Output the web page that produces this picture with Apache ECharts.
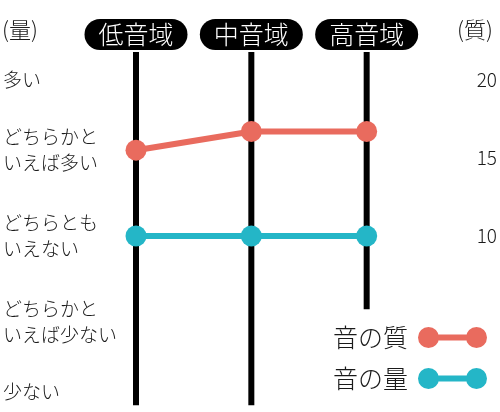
<!DOCTYPE html>
<html>
<head>
<meta charset="utf-8">
<script src="https://cdn.jsdelivr.net/npm/echarts@6/dist/echarts.min.js"></script>
<style>
html,body{margin:0;padding:0;background:#fff;}
#c{width:500px;height:412px;}
</style>
</head>
<body>
<div id="c"></div>
<script>
// ---- data ----
const categories = ['低音域', '中音域', '高音域'];
const qualityName = '音の質';
const volumeName = '音の量';
const qualityValues = [15.5, 16.7, 16.7];
const volumeValues = [10, 10, 10];
const leftTickValues = [0, 5, 10, 15, 20];
const leftTickLabels = ['少ない', 'どちらかと\nいえば少ない', 'どちらとも\nいえない', 'どちらかと\nいえば多い', '多い'];
const rightTickValues = [10, 15, 20];
const rightTickLabels = ['10', '15', '20'];
const axisTop = [21.8, 21.8, 21.8];
const axisBottom = [-0.85, -0.85, 5.3];

const FONT = '"Noto Sans CJK JP", "Noto Sans", sans-serif';
const RED = '#E96B5E';
const TEAL = '#24B6C7';
const TXT = '#1a1a1a';
const legendIcon = 'path://M0,10.5A10.5,10.5,0,1,1,21,10.5A10.5,10.5,0,1,1,0,10.5ZM10,7.5H59V13.5H10ZM48,10.5A10.5,10.5,0,1,1,69,10.5A10.5,10.5,0,1,1,48,10.5Z';

const axisData = categories.map((c, i) => [i, axisTop[i], axisBottom[i]]);

const chart = echarts.init(document.getElementById('c'), null, {renderer: 'canvas'});
chart.setOption({
  backgroundColor: '#fff',
  animation: false,
  textStyle: {fontFamily: FONT},
  grid: {left: 136, right: 131, top: 80, bottom: 20},
  graphic: [
    {type: 'text', left: 2, top: 19, style: {text: '(量)', font: '300 22px ' + FONT, fill: TXT}},
    {type: 'text', left: 457, top: 19, style: {text: '(質)', font: '300 22px ' + FONT, fill: TXT}}
  ],
  legend: {
    data: [qualityName, volumeName],
    orient: 'vertical',
    right: 8,
    top: 320,
    align: 'right',
    itemWidth: 69,
    itemHeight: 21,
    itemGap: 16,
    icon: legendIcon,
    textStyle: {fontSize: 25, fontWeight: 300, lineHeight: 25, color: TXT, fontFamily: FONT, padding: [0, 5, 0, 0]}
  },
  xAxis: {
    type: 'category',
    data: categories,
    position: 'top',
    boundaryGap: false,
    z: 10,
    axisLine: {show: false},
    axisTick: {show: false},
    splitLine: {show: false},
    axisLabel: {
      color: '#fff',
      fontSize: 25,
      fontWeight: 300,
      lineHeight: 25,
      fontFamily: FONT,
      backgroundColor: '#000',
      borderRadius: 16,
      padding: [3, 14, 3, 14],
      margin: 30
    }
  },
  yAxis: [
    {
      type: 'value', min: 0, max: 20, interval: 5, position: 'left',
      axisLine: {show: false}, axisTick: {show: false}, splitLine: {show: false},
      axisLabel: {
        align: 'left', margin: 133, color: TXT, fontSize: 19, fontWeight: 300, lineHeight: 26, fontFamily: FONT,
        formatter: v => {
          const i = leftTickValues.indexOf(v);
          if (i < 0) return '';
          if (v === 15) return '{up|' + leftTickLabels[i] + '}';
          if (v === 5) return '{dn|' + leftTickLabels[i] + '}';
          return leftTickLabels[i];
        },
        rich: {
          up: {fontSize: 19, fontWeight: 300, lineHeight: 26, color: TXT, fontFamily: FONT, padding: [0, 0, 16, 0]},
          dn: {fontSize: 19, fontWeight: 300, lineHeight: 26, color: TXT, fontFamily: FONT, padding: [16, 0, 0, 0]}
        }
      }
    },
    {
      type: 'value', min: 0, max: 20, interval: 5, position: 'right',
      axisLine: {show: false}, axisTick: {show: false}, splitLine: {show: false},
      axisLabel: {
        align: 'left', margin: 110, color: TXT, fontSize: 19, fontWeight: 300, fontFamily: FONT,
        formatter: v => {
          const i = rightTickValues.indexOf(v);
          return i < 0 ? '' : rightTickLabels[i];
        }
      }
    }
  ],
  series: [
    {
      type: 'custom',
      name: 'axes',
      data: axisData,
      clip: false,
      z: 1,
      encode: {x: 0, y: [1, 2]},
      renderItem: (params, api) => {
        const p1 = api.coord([api.value(0), api.value(1)]);
        const p2 = api.coord([api.value(0), api.value(2)]);
        return {type: 'line', shape: {x1: p1[0], y1: p1[1], x2: p2[0], y2: p2[1]}, style: {stroke: '#000', lineWidth: 6}};
      },
      silent: true
    },
    {
      type: 'line', name: volumeName, data: volumeValues, z: 3,
      symbol: 'circle', symbolSize: 21,
      lineStyle: {color: TEAL, width: 6}, itemStyle: {color: TEAL}
    },
    {
      type: 'line', name: qualityName, data: qualityValues, z: 4,
      symbol: 'circle', symbolSize: 21,
      lineStyle: {color: RED, width: 6}, itemStyle: {color: RED}
    }
  ]
});
</script>
</body>
</html>
